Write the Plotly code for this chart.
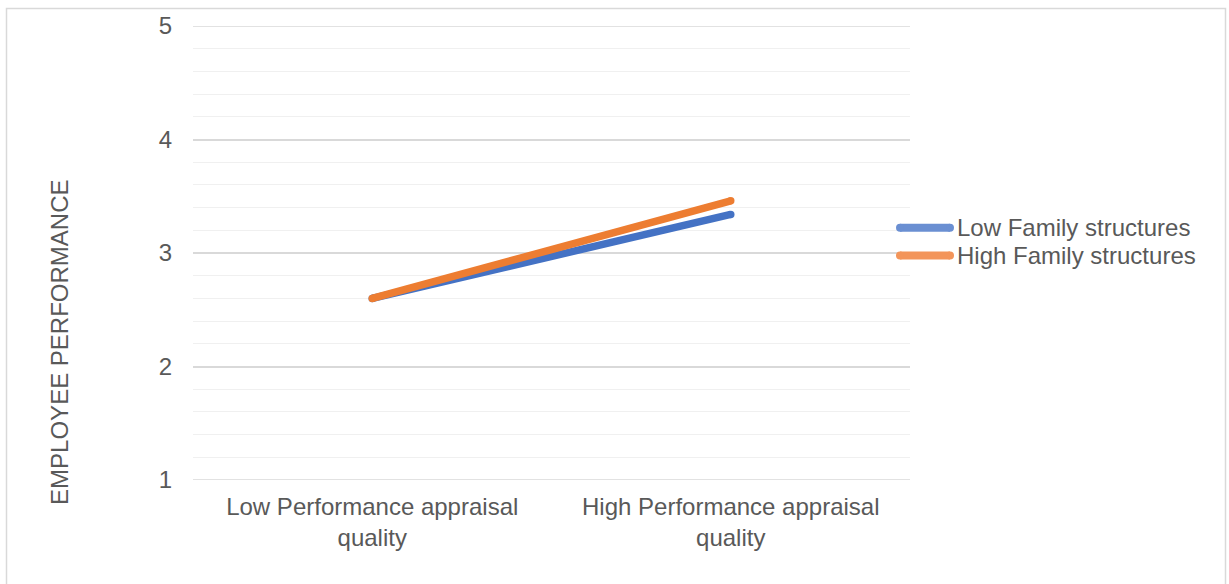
import plotly.graph_objects as go

# Interaction plot: employee performance by appraisal quality and family structure
categories = ["Low Performance appraisal<br>quality", "High Performance appraisal<br>quality"]
series_names = ["Low Family structures", "High Family structures"]
low_family = [2.6, 3.34]
high_family = [2.6, 3.46]
y_ticks = [1, 2, 3, 4, 5]

line_colors = ["#4472C4", "#ED7D31"]
legend_colors = ["#6A8FD2", "#F3955A"]
text_color = "#595959"
grid_color = "#D9D9D9"
font_family = "Liberation Sans, Arial, sans-serif"
font_size = 24

W, H = 1229, 584
L, R, T, B = 193, 319, 23, 104
pw, ph = W - L - R, H - T - B


def px_x(x):
    return (x - L) / pw


def px_y(y):
    return (H - B - y) / ph


fig = go.Figure()
for name, vals, col in zip(series_names, [low_family, high_family], line_colors):
    fig.add_trace(go.Scatter(
        x=[0, 1], y=vals, mode="lines+markers", name=name,
        line=dict(color=col, width=7.5),
        marker=dict(color=col, size=7.5, line=dict(width=0)),
        showlegend=False, hoverinfo="skip",
    ))

shapes = [
    # outer chart border
    dict(type="rect", xref="paper", yref="paper",
         x0=px_x(6.5), x1=px_x(1225.5), y0=px_y(600), y1=px_y(5.5),
         line=dict(color=grid_color, width=1.5), fillcolor="rgba(0,0,0,0)", layer="below"),
]
# major gridlines at the ends of the value range
for v in (y_ticks[0], y_ticks[-1]):
    shapes.append(dict(type="line", xref="paper", yref="y", x0=0, x1=1, y0=v, y1=v,
                       line=dict(color=grid_color, width=1.5), layer="below"))

annotations = []

# legend entries
legend_y = [226, 254]
for name, col, ly in zip(series_names, legend_colors, legend_y):
    shapes.append(dict(type="line", xref="paper", yref="paper",
                       x0=px_x(900), x1=px_x(950), y0=px_y(ly), y1=px_y(ly),
                       line=dict(color=col, width=8)))
    shapes.append(dict(type="circle", xref="paper", yref="paper",
                       x0=px_x(896), x1=px_x(904), y0=px_y(ly - 4), y1=px_y(ly + 4),
                       line=dict(width=0), fillcolor=col))
    shapes.append(dict(type="circle", xref="paper", yref="paper",
                       x0=px_x(946), x1=px_x(954), y0=px_y(ly - 4), y1=px_y(ly + 4),
                       line=dict(width=0), fillcolor=col))
    annotations.append(dict(xref="paper", yref="paper", x=px_x(955), y=px_y(ly),
                            xanchor="left", yanchor="middle", text=name, showarrow=False,
                            font=dict(family=font_family, size=font_size, color=text_color)))

# y axis title
annotations.append(dict(xref="paper", yref="paper", x=px_x(60), y=px_y(342),
                        xanchor="center", yanchor="middle", text="EMPLOYEE PERFORMANCE",
                        textangle=-90, showarrow=False,
                        font=dict(family=font_family, size=font_size, color=text_color)))

fig.update_layout(
    width=W, height=H,
    margin=dict(l=L, r=R, t=T, b=B, pad=0),
    paper_bgcolor="white", plot_bgcolor="white",
    font=dict(family=font_family, size=font_size, color=text_color),
    shapes=shapes, annotations=annotations,
    showlegend=False,
    xaxis=dict(
        range=[-0.5, 1.5], tickvals=[0, 1], ticktext=categories,
        showgrid=False, zeroline=False, showline=False, ticks="",
        tickfont=dict(family=font_family, size=font_size, color=text_color),
        ticklabelstandoff=10,
        fixedrange=True,
    ),
    yaxis=dict(
        range=[1, 5], tickvals=y_ticks, ticktext=[str(v) for v in y_ticks],
        showgrid=True, gridcolor=grid_color, gridwidth=1.5,
        minor=dict(tickvals=[round(1 + 0.2 * i, 1) for i in range(21) if i % 5],
                   showgrid=True, gridcolor="#F0F0F0", gridwidth=1.2, ticks=""),
        zeroline=False, showline=False, ticks="",
        tickfont=dict(family=font_family, size=font_size, color=text_color),
        ticklabelstandoff=20,
        fixedrange=True,
    ),
)

fig.write_html("out.html")
